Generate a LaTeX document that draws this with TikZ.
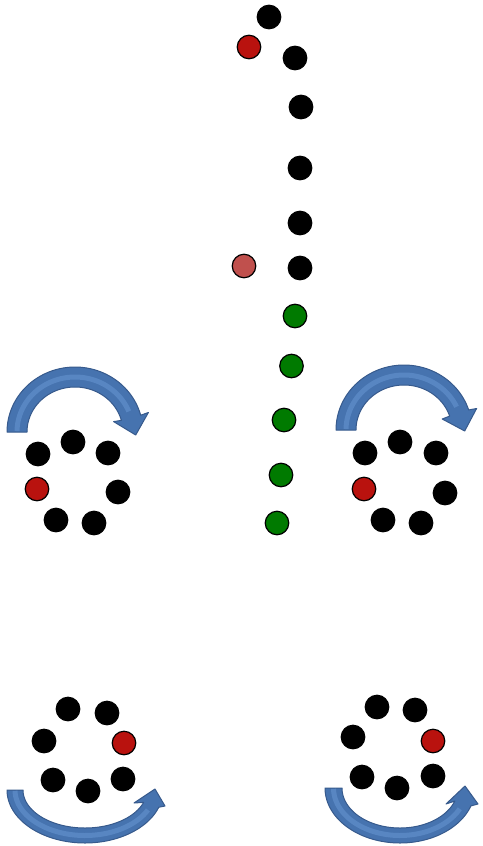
\documentclass[tikz,border=0pt]{standalone}
\definecolor{dotred}{RGB}{185,18,14}
\definecolor{dotpink}{RGB}{192,80,77}
\definecolor{dotgreen}{RGB}{0,122,0}
\definecolor{arrfill}{RGB}{70,115,175}
\definecolor{arredge}{RGB}{55,90,140}
\definecolor{arrlight}{RGB}{100,148,208}
\tikzset{
  dot/.style={circle, draw=black, line width=1.2pt, minimum size=23.5pt, inner sep=0pt, fill=black},
  reddot/.style={dot, fill=dotred},
  pinkdot/.style={dot, fill=dotpink},
  greendot/.style={dot, fill=dotgreen},
  arrowbody/.style={fill=arrfill, draw=arredge, line width=1pt, line join=round},
  arrowshine/.style={draw=arrlight, line width=5pt, opacity=0.6}
}
\begin{document}
\begin{tikzpicture}[x=1pt,y=-1pt]
\useasboundingbox (0,0) rectangle (482,846);
% central column
\node[dot] (c1) at (269,17) {};
\node[reddot] (c2) at (249,47) {};
\node[dot] (c3) at (295,58) {};
\node[dot] (c4) at (301,107) {};
\node[dot] (c5) at (300,168) {};
\node[dot] (c6) at (300,223) {};
\node[pinkdot] (c7) at (244,266) {};
\node[dot] (c8) at (300,268) {};
\node[greendot] (g1) at (295,316) {};
\node[greendot] (g2) at (291.5,366) {};
\node[greendot] (g3) at (284,420) {};
\node[greendot] (g4) at (281,475) {};
\node[greendot] (g5) at (277,523) {};
% top-left group
\node[dot] (a1) at (38,454) {};
\node[dot] (a2) at (73,442) {};
\node[dot] (a3) at (108,453) {};
\node[reddot] (a4) at (37,489) {};
\node[dot] (a5) at (118,492) {};
\node[dot] (a6) at (56,520) {};
\node[dot] (a7) at (94,523) {};
% top-right group
\node[dot] (b1) at (365,453) {};
\node[dot] (b2) at (400,442) {};
\node[dot] (b3) at (436,453) {};
\node[reddot] (b4) at (364,489) {};
\node[dot] (b5) at (445,493) {};
\node[dot] (b6) at (383,520) {};
\node[dot] (b7) at (421,523) {};
% bottom-left group
\node[dot] (d1) at (68,709) {};
\node[dot] (d2) at (107,713) {};
\node[dot] (d3) at (44,741) {};
\node[reddot] (d4) at (124,743) {};
\node[dot] (d5) at (53,780) {};
\node[dot] (d6) at (88,791) {};
\node[dot] (d7) at (123,779) {};
% bottom-right group
\node[dot] (e1) at (377,707) {};
\node[dot] (e2) at (415,710) {};
\node[dot] (e3) at (353,737) {};
\node[reddot] (e4) at (433,741) {};
\node[dot] (e5) at (362,777) {};
\node[dot] (e6) at (397,788) {};
\node[dot] (e7) at (433,776) {};
% top-left arrow
\path[arrowbody] plot[domain=180:345,samples=60] ({75+68*cos(\x)},{432+65*sin(\x)})
  -- (148.4,412.5) -- (135.7,435) -- (113.6,421.6)
  -- plot[domain=345:180,samples=60] ({75+48*cos(\x)},{432+45*sin(\x)}) -- cycle;
\draw[arrowshine] plot[domain=181:338,samples=60] ({75+58*cos(\x)},{432+55*sin(\x)});
% top-right arrow
\path[arrowbody] plot[domain=180:342,samples=60] ({404+68*cos(\x)},{430+65*sin(\x)})
  -- (476.6,408.5) -- (464.7,431) -- (442.2,419)
  -- plot[domain=342:180,samples=60] ({404+48*cos(\x)},{430+45*sin(\x)}) -- cycle;
\draw[arrowshine] plot[domain=181:335,samples=60] ({404+58*cos(\x)},{430+55*sin(\x)});
% bottom-left arrow
\path[arrowbody] plot[domain=180:19,samples=60] ({85+78*cos(\x)},{790+53*sin(\x)})
  -- (165,806) -- (155,789) -- (134,803)
  -- plot[domain=19:180,samples=60] ({85+62*cos(\x)},{790+38*sin(\x)}) -- cycle;
\draw[arrowshine] plot[domain=179:26,samples=60] ({85+70*cos(\x)},{790+45.5*sin(\x)});
% bottom-right arrow
\path[arrowbody] plot[domain=180:19,samples=60] ({400+75*cos(\x)},{788+55*sin(\x)})
  -- (478,804) -- (465,786) -- (446,804)
  -- plot[domain=19:180,samples=60] ({400+58*cos(\x)},{788+40*sin(\x)}) -- cycle;
\draw[arrowshine] plot[domain=179:26,samples=60] ({400+66.5*cos(\x)},{788+47.5*sin(\x)});
\end{tikzpicture}
\end{document}
